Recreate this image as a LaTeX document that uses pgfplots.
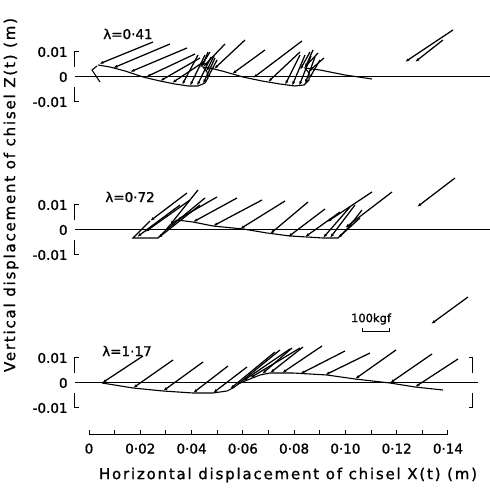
\documentclass[border=0pt]{standalone}
\usepackage{fontspec}
\setmainfont{DejaVu Sans}[FakeBold=1.2]
\newfontfamily\labfont[LetterSpace=12,FakeBold=1.2]{DejaVu Sans}
\usepackage{pgfplots}
\pgfplotsset{compat=1.18}
\usepackage{pgfplotstable}
\usetikzlibrary{arrows.meta}

% panel 1 (lambda = 0.41): force vectors, tail (x,y) -> tip (xt,yt) on the path
\pgfplotstableread{
x y xt yt
0.02496 0.0140 0.0039 0.0052
0.03159 0.0132 0.00936 0.0036
0.03822 0.0116 0.01599 0.0020
0.04134 0.0092 0.02223 0.0
0.04329 0.0076 0.02769 -0.0016
0.04524 0.0064 0.03237 -0.0024
0.04251 0.0088 0.03627 -0.0032
0.04524 0.0088 0.03939 -0.0036
0.04758 0.0080 0.04212 -0.0036
0.04914 0.0076 0.04446 -0.0028
0.04992 0.0068 0.04602 -0.0008
0.04875 0.0084 0.04563 0.0020
0.04641 0.0100 0.04407 0.0040
0.04719 0.0100 0.04329 0.0036
0.05304 0.0132 0.04446 0.0040
0.06084 0.0148 0.04875 0.0032
0.06864 0.0108 0.05577 0.0012
0.08307 0.0144 0.06396 -0.0004
0.08229 0.0100 0.06981 -0.0020
0.08229 0.0088 0.07644 -0.0032
0.08424 0.0088 0.07917 -0.0036
0.08658 0.0084 0.0819 -0.0036
0.08814 0.0080 0.08424 -0.0028
0.09009 0.0068 0.0858 -0.0008
0.09165 0.0076 0.08541 0.0020
0.08931 0.0096 0.08385 0.0036
0.0862 0.0100 0.08229 0.0028
0.08736 0.0108 0.08424 0.0036
}\arrA
\pgfplotstableread{
x y xt yt
0.14196 0.0188 0.12324 0.0060
0.13806 0.0148 0.12714 0.0060
}\refA

% panel 2 (lambda = 0.72)
\pgfplotstableread{
x y xt yt
0.03549 0.0100 0.01872 -0.0028
0.03939 0.0120 0.02184 -0.0008
0.03822 0.0148 0.02379 0.0036
0.04329 0.0100 0.02691 -0.0032
0.04524 0.0128 0.02964 -0.0004
0.04251 0.0160 0.03159 0.0020
0.04992 0.0132 0.03432 0.0040
0.05772 0.0128 0.04056 0.0032
0.06747 0.0120 0.04836 0.0016
0.07644 0.0116 0.05889 0.0004
0.08541 0.0112 0.07059 -0.0016
0.09204 0.0084 0.07761 -0.0028
0.09789 0.0072 0.08424 -0.0028
0.10179 0.0092 0.09126 -0.0032
0.10374 0.0100 0.09399 -0.0032
0.11037 0.0152 0.09282 0.0032
0.11817 0.0152 0.09984 0.0008
0.10569 0.0048 0.09711 -0.0032
0.10647 0.0080 0.10101 0.0008
}\arrB
\pgfplotstableread{
x y xt yt
0.14274 0.0208 0.12792 0.0092
}\refB

% panel 3 (lambda = 1.17)
\pgfplotstableread{
x y xt yt
0.02106 0.0108 0.00507 0
0.03276 0.0092 0.01716 -0.0020
0.04446 0.0084 0.02886 -0.0032
0.05421 0.0068 0.04056 -0.0040
0.06162 0.0064 0.04836 -0.0040
0.07254 0.0124 0.05499 -0.0024
0.07449 0.0132 0.05772 -0.0008
0.07839 0.0136 0.06006 0.0008
0.08229 0.0140 0.06279 0.0020
0.07917 0.0140 0.06747 0.0036
0.08346 0.0144 0.07059 0.0040
0.09087 0.0148 0.07527 0.0040
0.09984 0.0128 0.08229 0.0036
0.10959 0.0120 0.09204 0.0032
0.11973 0.0132 0.10374 0.0016
0.13377 0.0116 0.11739 0
0.14391 0.0096 0.12714 -0.0016
}\arrC
\pgfplotstableread{
x y xt yt
0.14781 0.0344 0.13338 0.0236
}\refC

\tikzset{lam/.style={font=\fontsize{13.5}{13.5}\selectfont}}
\pgfplotsset{
  panel/.style={
    x=2564pt, y=2500pt, anchor=origin,
    xmin=-0.0055, xmax=0.156, ymin=-0.01, ymax=0.01,
    axis x line=none, axis y line=left,
    y axis line style={draw=none},
    major tick style={draw=none},
    scaled y ticks=false,
    ytick={-0.01,0,0.01}, yticklabels={-0.01,0,0.01},
    yticklabel style={font=\fontsize{13.5}{13.5}\selectfont, inner sep=1pt, xshift=-4pt},
    clip=false,
  },
  vec/.style={black, line width=1.25pt,
    quiver={u=\thisrow{xt}-\thisrow{x}, v=\thisrow{yt}-\thisrow{y},
      every arrow/.append style={-{Latex[length=4.5pt,width=3pt]}}}},
  traj/.style={black, line width=1.1pt},
  frame/.style={black, line width=1pt},
}

\begin{document}
\begin{tikzpicture}
\path[use as bounding box] (0,0) rectangle (490pt,490pt);

% ---------- panel 1 ----------
\begin{axis}[panel, at={(89pt,413pt)}]
\addplot[frame] coordinates {(-0.0055,0) (0.1564,0)};
\addplot[frame] coordinates {(-0.0039,0.01) (-0.0055,0.01) (-0.0055,0.004)};
\addplot[frame] coordinates {(-0.0055,-0.004) (-0.0055,-0.01) (-0.0039,-0.01)};
\addplot[traj] coordinates {(0.00312,0.0044) (0.00117,0.0028) (0.00429,-0.0020)};
\addplot[traj] coordinates {(0.00351,0.0048) (0.00819,0.0040) (0.01404,0.0024) (0.02106,0) (0.02769,-0.0016) (0.03354,-0.0028) (0.03861,-0.0036) (0.04251,-0.0036) (0.04524,-0.0024) (0.04641,-0.0004) (0.04602,0.0020) (0.04446,0.0040) (0.04719,0.0036) (0.05187,0.0024) (0.06006,0) (0.06747,-0.0016) (0.07449,-0.0028) (0.08034,-0.0036) (0.08385,-0.0032) (0.0858,-0.0012) (0.0858,0.0016) (0.08424,0.0036) (0.08697,0.0032) (0.09009,0.0028) (0.09984,0.0008) (0.11037,-0.0008)};
\addplot[vec] table[x=x,y=y] {\arrA};
\addplot[vec] table[x=x,y=y] {\refA};
\node[lam] at (axis cs:0.0152,0.0172) {λ=0·41};
\end{axis}

% ---------- panel 2 ----------
\begin{axis}[panel, at={(89pt,260pt)}]
\addplot[frame] coordinates {(-0.0055,0) (0.1564,0)};
\addplot[frame] coordinates {(-0.0039,0.01) (-0.0055,0.01) (-0.0055,0.004)};
\addplot[frame] coordinates {(-0.0055,-0.004) (-0.0055,-0.01) (-0.0039,-0.01)};
\addplot[traj] coordinates {(0.02379,0.0036) (0.01716,-0.0032) (0.02691,-0.0032) (0.02964,-0.0004) (0.03159,0.0020) (0.03432,0.0040) (0.04056,0.0032) (0.04836,0.0016) (0.06006,0.0004) (0.06942,-0.0012) (0.07839,-0.0024) (0.08502,-0.0028) (0.09126,-0.0032) (0.09711,-0.0032) (0.10101,0.0008) (0.10296,0.0036)};
\addplot[vec] table[x=x,y=y] {\arrB};
\addplot[vec] table[x=x,y=y] {\refB};
\node[lam] at (axis cs:0.0160,0.0132) {λ=0·72};
\end{axis}

% ---------- panel 3 ----------
\begin{axis}[panel, at={(89pt,107pt)}]
\addplot[frame] coordinates {(-0.0055,0) (0.1517,0)};
\addplot[frame] coordinates {(-0.0039,0.01) (-0.0055,0.01) (-0.0055,0.004)};
\addplot[frame] coordinates {(-0.0055,-0.004) (-0.0055,-0.01) (-0.0039,-0.01)};
\addplot[frame] coordinates {(0.1482,0.01) (0.14976,0.01) (0.14976,0.004)};
\addplot[frame] coordinates {(0.14976,-0.004) (0.14976,-0.01) (0.1482,-0.01)};
\addplot[traj] coordinates {(0.00507,0) (0.01716,-0.0020) (0.02886,-0.0032) (0.04056,-0.0040) (0.04836,-0.0040) (0.05382,-0.0032) (0.05616,-0.0020) (0.05889,0) (0.06669,0.0032) (0.07059,0.0040) (0.07956,0.0040) (0.09282,0.0032) (0.10374,0.0016) (0.11739,0) (0.12714,-0.0016) (0.13806,-0.0028)};
\addplot[vec] table[x=x,y=y] {\arrC};
\addplot[vec] table[x=x,y=y] {\refC};
% 100 kgf scale bar
\addplot[frame] coordinates {(0.10686,0.0220) (0.10686,0.0204) (0.11739,0.0204) (0.11739,0.0220)};
\node[font=\fontsize{11.5}{11.5}\selectfont] at (axis cs:0.1100,0.0256) {100kgf};
\node[lam] at (axis cs:0.0148,0.0128) {λ=1·17};
\end{axis}

% ---------- x axis ----------
\begin{axis}[x=2564pt, y=1pt, anchor=origin, at={(89pt,55pt)},
  xmin=0, xmax=0.14, ymin=0, ymax=1,
  axis x line=bottom, axis y line=none,
  x axis line style={-, line width=1pt},
  scaled x ticks=false,
  xtick={0,0.02,0.04,0.06,0.08,0.10,0.12,0.14},
  xticklabels={0,0·02,0·04,0·06,0·08,0·10,0·12,0·14},
  minor xtick={0.01,0.03,0.05,0.07,0.09,0.11,0.13},
  tick align=inside, major tick length=5pt, minor tick length=5pt,
  every tick/.style={black, line width=1pt},
  xticklabel style={font=\fontsize{13.5}{13.5}\selectfont, yshift=-5pt},
]
\addplot[draw=none] coordinates {(0,0) (0.14,0)};
\end{axis}

\node[font=\labfont\fontsize{15}{15}\selectfont] at (288pt,15pt) {Horizontal displacement of chisel X(t) (m)};
\node[rotate=90, font=\labfont\fontsize{15}{15}\selectfont] at (11pt,295pt) {Vertical displacement of chisel Z(t) (m)};
\end{tikzpicture}
\end{document}
